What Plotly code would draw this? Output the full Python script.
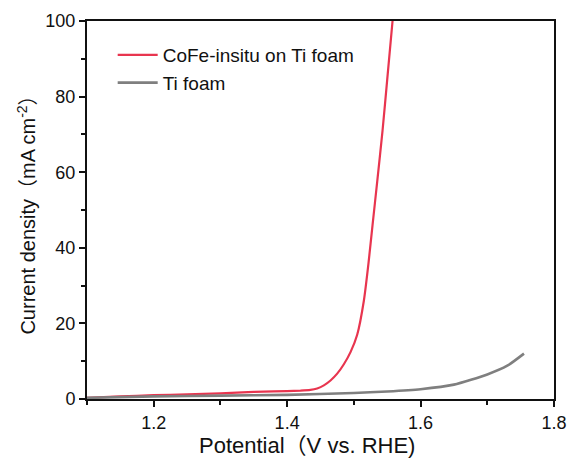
import plotly.graph_objects as go

cofe_x = [1.10, 1.15, 1.20, 1.25, 1.30, 1.35, 1.38, 1.42, 1.435, 1.445, 1.455, 1.465, 1.475,
          1.485, 1.495, 1.505, 1.515, 1.522, 1.528, 1.535, 1.543, 1.550, 1.558]
cofe_y = [0.3, 0.7, 1.0, 1.2, 1.5, 1.9, 2.0, 2.2, 2.4, 2.8, 3.6, 4.9, 6.7,
          9.2, 12.4, 17.0, 26.0, 36.0, 46.0, 57.5, 71.0, 84.5, 100.0]

ti_x = [1.10, 1.20, 1.30, 1.40, 1.50, 1.55, 1.60, 1.65, 1.70, 1.73, 1.755]
ti_y = [0.3, 0.7, 0.9, 1.1, 1.6, 2.0, 2.6, 3.8, 6.5, 8.8, 12.0]

names = ["CoFe-insitu on Ti foam", "Ti foam"]
colors = ["#E8354F", "#7F7F7F"]

fig = go.Figure()
fig.add_trace(go.Scatter(x=cofe_x, y=cofe_y, mode="lines", name=names[0],
                         line=dict(color=colors[0], width=2.2, shape="spline", smoothing=0.5)))
fig.add_trace(go.Scatter(x=ti_x, y=ti_y, mode="lines", name=names[1],
                         line=dict(color=colors[1], width=2.6, shape="spline", smoothing=0.6)))

font = "Liberation Sans, Arial, Noto Sans CJK SC, sans-serif"
fig.update_layout(
    width=570, height=459,
    margin=dict(l=87, r=16, t=21, b=60, autoexpand=False),
    paper_bgcolor="white", plot_bgcolor="white",
    font=dict(family=font, size=18, color="#111"),
    showlegend=True,
    legend=dict(x=0.055, y=0.96, xanchor="left", yanchor="top",
                bgcolor="rgba(0,0,0,0)", font=dict(size=19),
                itemwidth=40, tracegroupgap=0),
    xaxis=dict(range=[1.1, 1.8], tick0=1.2, dtick=0.2, ticks="outside", ticklen=6,
               tickwidth=1.5, tickcolor="#111", showline=True, linecolor="#111", linewidth=2,
               mirror=True, showgrid=False, zeroline=False, automargin=False,
               minor=dict(tick0=1.1, dtick=0.1, ticks="outside", ticklen=4, tickcolor="#111", tickwidth=1.5),
               tickfont=dict(size=18)),
    yaxis=dict(range=[0, 100], dtick=20, ticks="outside", ticklen=6, tickwidth=1.5,
               tickcolor="#111", showline=True, linecolor="#111", linewidth=2,
               mirror=True, showgrid=False, zeroline=False, automargin=False,
               minor=dict(dtick=10, ticks="outside", ticklen=4, tickcolor="#111", tickwidth=1.5),
               title=dict(text="Current density（mA cm<sup>-2</sup>）", font=dict(size=20), standoff=4),
               tickfont=dict(size=18)),
    annotations=[dict(text="Potential（V vs. RHE)", xref="paper", yref="paper",
                      x=0.471, y=-0.122, xanchor="center", yanchor="middle",
                      showarrow=False, font=dict(size=22))],
)
fig.write_html("out.html")
